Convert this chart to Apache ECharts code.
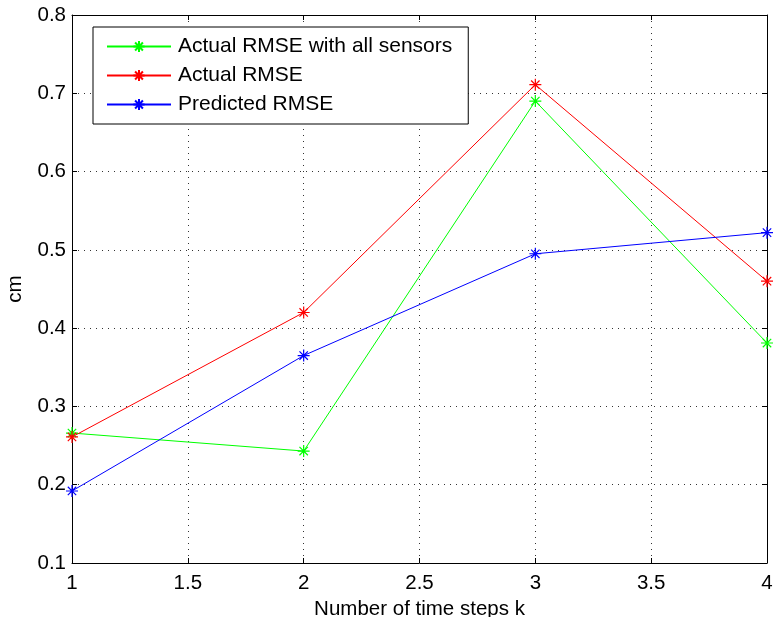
<!DOCTYPE html>
<html>
<head>
<meta charset="utf-8">
<script src="https://cdn.jsdelivr.net/npm/echarts@6/dist/echarts.min.js"></script>
<style>
  html, body { margin: 0; padding: 0; background: #fff; }
  #chart { width: 774px; height: 617px; }
</style>
</head>
<body>
<div id="chart"></div>
<script>
// data
const steps = [1, 2, 3, 4];
const allSensors = [0.266, 0.243, 0.690, 0.381];
const actual = [0.261, 0.420, 0.711, 0.460];
const predicted = [0.192, 0.365, 0.495, 0.522];
const seriesNames = ['Actual RMSE with all sensors', 'Actual RMSE', 'Predicted RMSE'];
const seriesColors = ['#00ff00', '#ff0000', '#0000ff'];

const star = 'path://M5 0L5 10M0 5L10 5M1.5 1.5L8.5 8.5M1.5 8.5L8.5 1.5';
const font = 'Liberation Sans, Arial, Helvetica, sans-serif';

function mkSeries(name, vals, color) {
  return {
    name: name,
    type: 'line',
    data: steps.map((s, i) => [s, vals[i]]),
    symbol: star,
    symbolSize: 12,
    showSymbol: true,
    lineStyle: { color: color, width: 1 },
    itemStyle: { color: 'none', borderColor: color, borderWidth: 1.2 },
    emphasis: { disabled: true },
    animation: false
  };
}

const myChart = echarts.init(document.getElementById('chart'));
const gridLine = { show: true, lineStyle: { color: '#333', type: [1, 5], width: 1 } };
const option = {
  backgroundColor: '#fff',
  textStyle: { fontFamily: font },
  grid: { left: 72, right: 7, top: 15, bottom: 54, containLabel: false, outerBoundsMode: 'none' },
  legend: {
    orient: 'vertical',
    left: 93,
    top: 27,
    padding: [9, 16, 9, 13],
    itemGap: 8,
    itemWidth: 64,
    itemHeight: 14,
    borderColor: '#000',
    borderWidth: 1,
    backgroundColor: '#fff',
    textStyle: { fontSize: 21, color: '#000', fontFamily: font, padding: [0, 0, 0, 2] },
    data: seriesNames
  },
  xAxis: [{
    type: 'value', min: 1, max: 4, interval: 0.5,
    name: 'Number of time steps k', nameLocation: 'middle', nameGap: 35,
    nameTextStyle: { fontSize: 20.5, color: '#000' },
    axisLine: { show: true, lineStyle: { color: '#000', width: 1 } },
    axisTick: { inside: true, length: 5, lineStyle: { color: '#000' } },
    axisLabel: { fontSize: 20.5, color: '#000', margin: 10 },
    splitLine: gridLine
  }, {
    type: 'value', min: 1, max: 4, interval: 0.5, position: 'top',
    axisLine: { show: true, onZero: false, lineStyle: { color: '#000', width: 1 } },
    axisTick: { inside: true, length: 5, lineStyle: { color: '#000' } },
    axisLabel: { show: false }, splitLine: { show: false }
  }],
  yAxis: [{
    type: 'value', min: 0.1, max: 0.8, interval: 0.1,
    name: 'cm', nameLocation: 'middle', nameGap: 46, nameRotate: 90,
    nameTextStyle: { fontSize: 20.5, color: '#000' },
    axisLine: { show: true, lineStyle: { color: '#000', width: 1 } },
    axisTick: { inside: true, length: 5, lineStyle: { color: '#000' } },
    axisLabel: { fontSize: 20.5, color: '#000', margin: 6, formatter: v => v.toFixed(1) },
    splitLine: gridLine
  }, {
    type: 'value', min: 0.1, max: 0.8, interval: 0.1, position: 'right',
    axisLine: { show: true, onZero: false, lineStyle: { color: '#000', width: 1 } },
    axisTick: { inside: true, length: 5, lineStyle: { color: '#000' } },
    axisLabel: { show: false }, splitLine: { show: false }
  }],
  series: [
    mkSeries(seriesNames[0], allSensors, seriesColors[0]),
    mkSeries(seriesNames[1], actual, seriesColors[1]),
    mkSeries(seriesNames[2], predicted, seriesColors[2])
  ]
};
myChart.setOption(option);
</script>
</body>
</html>
